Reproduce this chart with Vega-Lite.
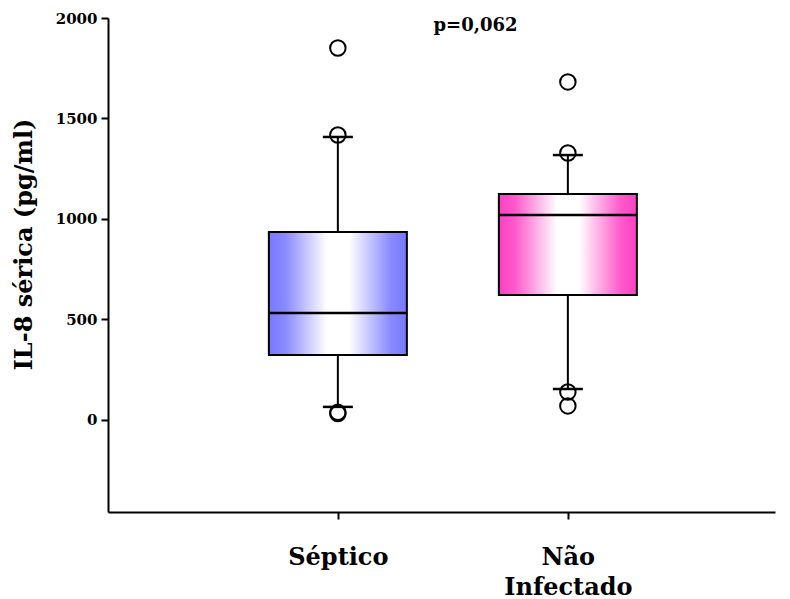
{
  "$schema": "https://vega.github.io/schema/vega-lite/v6.json",
  "autosize": {"type": "none"},
  "width": 667,
  "height": 494,
  "padding": {"left": 108, "top": 18, "right": 15, "bottom": 87},
  "background": "white",
  "title": {
    "text": "p=0,062",
    "anchor": "middle",
    "frame": "group",
    "dx": 34,
    "offset": -24,
    "font": "DejaVu Serif",
    "fontSize": 18,
    "fontWeight": "bold",
    "color": "black"
  },
  "datasets": {
    "boxes": [
      {"grupo": "Séptico", "q1": 323, "med": 532, "q3": 935, "lo": 65, "hi": 1408},
      {"grupo": "Não Infectado", "q1": 622, "med": 1020, "q3": 1124, "lo": 154, "hi": 1318}
    ],
    "outliers": [
      {"grupo": "Séptico", "v": 1851},
      {"grupo": "Séptico", "v": 1418},
      {"grupo": "Séptico", "v": 38},
      {"grupo": "Séptico", "v": 32},
      {"grupo": "Não Infectado", "v": 1682},
      {"grupo": "Não Infectado", "v": 1328},
      {"grupo": "Não Infectado", "v": 139},
      {"grupo": "Não Infectado", "v": 70}
    ]
  },
  "config": {
    "view": {"stroke": null},
    "font": "DejaVu Serif",
    "axis": {
      "grid": false,
      "domainColor": "black",
      "domainWidth": 2,
      "tickColor": "black",
      "tickWidth": 2,
      "tickSize": 7,
      "labelColor": "black",
      "titleColor": "black",
      "labelFont": "DejaVu Serif",
      "titleFont": "DejaVu Serif",
      "labelFontWeight": "bold",
      "titleFontWeight": "bold"
    }
  },
  "encoding": {
    "x": {
      "field": "grupo",
      "type": "nominal",
      "sort": ["Séptico", "Não Infectado"],
      "scale": {"type": "point", "padding": 0.95, "align": 0.526},
      "axis": {
        "title": null,
        "labelAngle": 0,
        "labelFontSize": 24,
        "labelPadding": 38,
        "labelBaseline": "middle",
        "labelLineHeight": 30,
        "labelExpr": "datum.label == 'Não Infectado' ? ['Não', 'Infectado'] : datum.label"
      }
    }
  },
  "layer": [
    {
      "data": {"name": "boxes"},
      "mark": {"type": "rule", "color": "black", "strokeWidth": 2},
      "encoding": {
        "y": {
          "field": "lo",
          "type": "quantitative",
          "scale": {"domain": [-458, 2000], "nice": false, "zero": false},
          "axis": {
            "title": "IL-8 sérica (pg/ml)",
            "values": [0, 500, 1000, 1500, 2000],
            "format": "d",
            "labelFontSize": 15,
            "labelPadding": 4,
            "titleFontSize": 24,
            "titleX": -72,
            "titleY": 226
          }
        },
        "y2": {"field": "hi"}
      }
    },
    {
      "data": {"name": "boxes"},
      "transform": [{"filter": "datum.grupo == 'Séptico'"}],
      "mark": {
        "type": "bar",
        "size": 138,
        "stroke": "black",
        "strokeWidth": 2,
        "color": {
          "gradient": "linear",
          "x1": 0, "y1": 0, "x2": 1, "y2": 0,
          "stops": [
            {"offset": 0, "color": "#7878ff"},
            {"offset": 0.12, "color": "#8a8aff"},
            {"offset": 0.42, "color": "#ffffff"},
            {"offset": 0.58, "color": "#ffffff"},
            {"offset": 0.88, "color": "#8a8aff"},
            {"offset": 1, "color": "#7878ff"}
          ]
        }
      },
      "encoding": {
        "y": {"field": "q1", "type": "quantitative"},
        "y2": {"field": "q3"}
      }
    },
    {
      "data": {"name": "boxes"},
      "transform": [{"filter": "datum.grupo == 'Não Infectado'"}],
      "mark": {
        "type": "bar",
        "size": 138,
        "stroke": "black",
        "strokeWidth": 2,
        "color": {
          "gradient": "linear",
          "x1": 0, "y1": 0, "x2": 1, "y2": 0,
          "stops": [
            {"offset": 0, "color": "#ff40c4"},
            {"offset": 0.12, "color": "#ff5acb"},
            {"offset": 0.42, "color": "#ffffff"},
            {"offset": 0.58, "color": "#ffffff"},
            {"offset": 0.88, "color": "#ff5acb"},
            {"offset": 1, "color": "#ff40c4"}
          ]
        }
      },
      "encoding": {
        "y": {"field": "q1", "type": "quantitative"},
        "y2": {"field": "q3"}
      }
    },
    {
      "data": {"name": "boxes"},
      "mark": {"type": "tick", "color": "black", "size": 138, "thickness": 2.5, "opacity": 1},
      "encoding": {"y": {"field": "med", "type": "quantitative"}}
    },
    {
      "data": {"name": "boxes"},
      "mark": {"type": "tick", "color": "black", "size": 30, "thickness": 2.5, "opacity": 1},
      "encoding": {"y": {"field": "hi", "type": "quantitative"}}
    },
    {
      "data": {"name": "boxes"},
      "mark": {"type": "tick", "color": "black", "size": 30, "thickness": 2.5, "opacity": 1},
      "encoding": {"y": {"field": "lo", "type": "quantitative"}}
    },
    {
      "data": {"name": "outliers"},
      "mark": {"type": "point", "shape": "circle", "filled": false, "stroke": "black", "strokeWidth": 2, "size": 240, "opacity": 1},
      "encoding": {"y": {"field": "v", "type": "quantitative"}}
    }
  ]
}
